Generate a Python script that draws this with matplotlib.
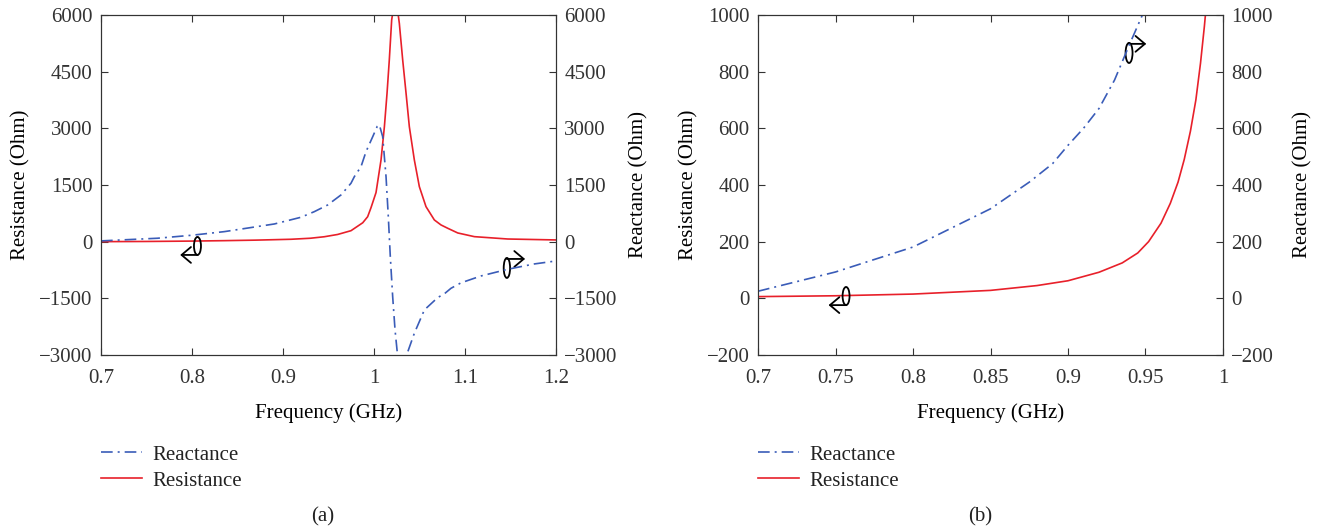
import matplotlib.pyplot as plt
from matplotlib.patches import Ellipse

plt.rcParams['font.family'] = ['Liberation Serif', 'DejaVu Serif']
plt.rcParams['font.size'] = 15
plt.rcParams['text.color'] = '#222222'
plt.rcParams['axes.edgecolor'] = '#333333'
plt.rcParams['xtick.color'] = '#333333'
plt.rcParams['ytick.color'] = '#333333'

BLUE = '#3a5cb8'
RED = '#e8202a'
DASHDOT = (0, (7, 3, 1.2, 3))

# panel (a): 0.7 - 1.2 GHz
freq_a_res = [0.70, 0.75, 0.80, 0.835, 0.87, 0.9088, 0.93, 0.9454, 0.96, 0.9747,
              0.9876, 0.993, 0.9967, 1.0022, 1.0077, 1.0114, 1.0143, 1.0168, 1.0194, 1.0215,
              1.0235, 1.0255, 1.0278, 1.0315, 1.0352, 1.0388, 1.0443, 1.0498, 1.0571, 1.0663,
              1.0736, 1.081, 1.092, 1.1103, 1.1469, 1.20]
res_a = [0, 5, 15, 26, 40, 63, 90, 130, 190, 290,
         500, 660, 900, 1300, 2163, 3044, 3928, 4811, 5868, 6200,
         6300, 6200, 5781, 4810, 3928, 3044, 2163, 1456, 927, 574,
         442, 354, 230, 132, 70, 45]

freq_a_reac = [0.70, 0.762, 0.80, 0.8355, 0.8905, 0.9198, 0.9344, 0.9491, 0.9564, 0.9637,
               0.9747, 0.9784, 0.9857, 0.9912, 0.9986, 1.0035, 1.0059, 1.0095, 1.0132, 1.0157,
               1.0179, 1.0205, 1.0231, 1.026, 1.030, 1.0352, 1.0443, 1.0553, 1.07, 1.0773,
               1.0846, 1.0956, 1.1176, 1.1469, 1.1762, 1.20]
reac_a = [20, 90, 170, 265, 468, 646, 794, 971, 1104, 1236,
          1546, 1721, 1985, 2382, 2780, 3050, 3089, 2780, 1721, 662,
          -397, -1456, -2337, -3044, -3350, -3044, -2425, -1808, -1480, -1380,
          -1234, -1090, -908, -731, -590, -511]

# panel (b): 0.7 - 1.0 GHz
freq_b_res = [0.70, 0.75, 0.80, 0.85, 0.88, 0.90, 0.92, 0.935, 0.945, 0.952,
              0.96, 0.966, 0.971, 0.975, 0.979, 0.9825, 0.9855, 0.988, 0.9895]
res_b = [6, 9, 15, 28, 45, 62, 92, 125, 160, 200,
         265, 335, 410, 490, 590, 700, 830, 960, 1050]

freq_b_reac = [0.70, 0.75, 0.80, 0.85, 0.875, 0.89, 0.90, 0.91, 0.92, 0.93,
               0.94, 0.948, 0.951]
reac_b = [25, 93, 181, 316, 410, 475, 540, 600, 670, 770,
          900, 1000, 1045]


def loop_arrow(ax, cx, cy, w, h, ay, ax_end):
    ax.add_patch(Ellipse((cx, cy), w, h, fill=False, lw=1.3, ec='black', zorder=5))
    ax.annotate('', xy=(ax_end, ay), xytext=(cx, ay),
                arrowprops=dict(arrowstyle='->,head_length=0.45,head_width=0.38',
                                lw=1.3, color='black', shrinkA=0, shrinkB=0), zorder=5)


def panel(rect, f_res, r, f_reac, x, xlim, ylim, xticks, yticks, xticklabels,
          caption, caption_x, rpad):
    ax = fig.add_axes(rect)
    ax2 = ax.twinx()
    ax.plot(f_res, r, color=RED, lw=1.2, label='Resistance')
    ax2.plot(f_reac, x, color=BLUE, lw=1.2, linestyle=DASHDOT, label='Reactance')
    for a in (ax, ax2):
        a.set_xlim(*xlim)
        a.set_ylim(*ylim)
        a.set_yticks(yticks)
        a.set_yticklabels([str(v).replace('-', '\u2212') for v in yticks])
        a.tick_params(direction='in', length=5, width=0.8, labelsize=15, pad=6)
    ax.set_xticks(xticks)
    ax.set_xticklabels(xticklabels)
    ax.tick_params(axis='x', top=True, pad=10)
    ax.set_xlabel('Frequency (GHz)', fontsize=15, labelpad=11)
    ax.set_ylabel('Resistance (Ohm)', fontsize=15, labelpad=6)
    ax2.set_ylabel('Reactance (Ohm)', fontsize=15, labelpad=rpad)
    h1, l1 = ax2.get_legend_handles_labels()
    h2, l2 = ax.get_legend_handles_labels()
    ax.legend(h1 + h2, l1 + l2, loc='upper left', bbox_to_anchor=(0.0, -0.265),
              frameon=False, handlelength=1.95, handletextpad=0.5, labelspacing=0.3,
              fontsize=15, borderaxespad=0, borderpad=0)
    fig.text(caption_x, 0.02, caption, ha='center', va='center', fontsize=15)
    return ax


fig = plt.figure(figsize=(13.22, 5.27), dpi=100)

ax_a = panel([0.0764, 0.3264, 0.3442, 0.6452], freq_a_res, res_a, freq_a_reac, reac_a,
             (0.7, 1.2), (-3000, 6000), [0.7, 0.8, 0.9, 1.0, 1.1, 1.2],
             [-3000, -1500, 0, 1500, 3000, 4500, 6000],
             ['0.7', '0.8', '0.9', '1', '1.1', '1.2'], '(a)', 0.2443, 8)
loop_arrow(ax_a, 0.806, -114, 0.0077, 476, -352, 0.787)
loop_arrow(ax_a, 1.146, -696, 0.0070, 529, -458, 1.166)

ax_b = panel([0.5734, 0.3264, 0.3517, 0.6452], freq_b_res, res_b, freq_b_reac, reac_b,
             (0.7, 1.0), (-200, 1000), [0.7, 0.75, 0.8, 0.85, 0.9, 0.95, 1.0],
             [-200, 0, 200, 400, 600, 800, 1000],
             ['0.7', '0.75', '0.8', '0.85', '0.9', '0.95', '1'], '(b)', 0.7413, 14)
loop_arrow(ax_b, 0.7568, 8, 0.0045, 64, -24, 0.7455)
loop_arrow(ax_b, 0.9394, 866, 0.0045, 71, 898, 0.9505)

fig.savefig('out.png', dpi=100)
